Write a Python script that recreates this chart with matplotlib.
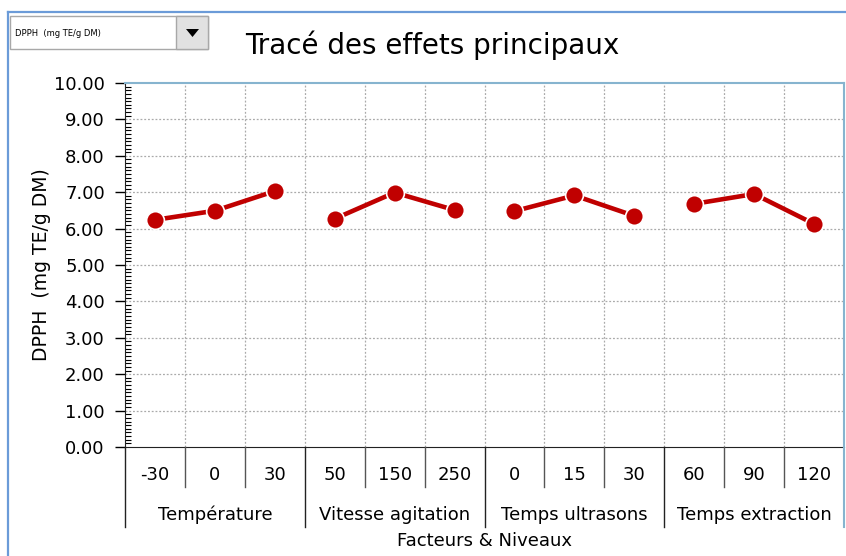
import numpy as np
import matplotlib
matplotlib.use('Agg')
import matplotlib.pyplot as plt
from matplotlib.lines import Line2D
from matplotlib.patches import Rectangle, Polygon
from matplotlib.transforms import blended_transform_factory
from matplotlib.ticker import MultipleLocator

# Effets principaux : moyenne de DPPH par niveau de chaque facteur
facteurs = ['Température', 'Vitesse agitation', 'Temps ultrasons', 'Temps extraction']
niveaux = [['-30', '0', '30'],
           ['50', '150', '250'],
           ['0', '15', '30'],
           ['60', '90', '120']]
dpph = [[6.24, 6.49, 7.03],
        [6.27, 6.99, 6.51],
        [6.48, 6.91, 6.35],
        [6.68, 6.95, 6.13]]

W, H = 846, 556
fig = plt.figure(figsize=(W / 100, H / 100), dpi=100)
plt.rcParams['font.family'] = ['DejaVu Sans']


def fy(py):
    """pixel row -> figure fraction"""
    return (H - py) / H


def fx(px):
    return px / W


ax_l, ax_r, ax_t, ax_b = 125, 844, 83, 447
ax = fig.add_axes([fx(ax_l), fy(ax_b), fx(ax_r) - fx(ax_l), fy(ax_t) - fy(ax_b)])

rouge = '#c00000'
n_niv = len(niveaux[0])
for g, vals in enumerate(dpph):
    xs = g * n_niv + np.arange(n_niv) + 0.5
    ax.plot(xs, vals, color=rouge, lw=3.3, solid_capstyle='butt', zorder=3)
    ax.plot(xs, vals, 'o', color=rouge, ms=12.8, mec='white', mew=1.2, zorder=4)

n_col = len(facteurs) * n_niv
ax.set_xlim(0, n_col)
ax.set_ylim(0, 10)
ax.set_xticks([])
ax.yaxis.set_major_locator(MultipleLocator(1))
ax.yaxis.set_minor_locator(MultipleLocator(0.1))
ax.yaxis.set_major_formatter(matplotlib.ticker.FormatStrFormatter('%.2f'))
ax.tick_params(axis='y', which='major', direction='out', length=7, width=1, labelsize=13, pad=7.5)
ax.tick_params(axis='y', which='minor', direction='in', length=4, width=0.8)

# grille pointillée
for k in range(1, n_col):
    ax.axvline(k, color='#aaaaaa', lw=0.9, ls=(0, (1.5, 1.5)), zorder=1)
for v in range(1, 10):
    ax.axhline(v, color='#aaaaaa', lw=0.9, ls=(0, (1.5, 1.5)), zorder=1)

ax.spines['top'].set_color('#86b4cf')
ax.spines['top'].set_linewidth(1.5)
ax.spines['right'].set_visible(False)
ax.spines['left'].set_color('#222222')
ax.spines['bottom'].set_color('#222222')

ax.set_ylabel('DPPH  (mg TE/g DM)', fontsize=13.5, labelpad=2)

# tableau des niveaux et facteurs sous l'axe
tr = blended_transform_factory(ax.transData, fig.transFigure)
for g, nom in enumerate(facteurs):
    for j, niv in enumerate(niveaux[g]):
        c = g * n_niv + j
        ax.text(c + 0.5, fy(475), niv, transform=tr, ha='center', va='center', fontsize=13)
        if j > 0:
            fig.add_artist(Line2D([c, c], [fy(447), fy(487)], transform=tr, color='#555555', lw=1))
    ax.text(g * n_niv + n_niv / 2, fy(515), nom, transform=tr, ha='center', va='center', fontsize=13)
    fig.add_artist(Line2D([g * n_niv, g * n_niv], [fy(447), fy(527)], transform=tr, color='#222222', lw=1))

fig.add_artist(Line2D([fx(ax_r), fx(ax_r)], [fy(ax_t), fy(527)], transform=fig.transFigure,
                      color='#86b4cf', lw=1.5))
fig.text(fx((ax_l + ax_r) / 2), fy(541), 'Facteurs & Niveaux', ha='center', va='center', fontsize=13)

# titre
fig.text(fx(432), fy(45), 'Tracé des effets principaux', ha='center', va='center', fontsize=20)

# cadre de la fenêtre
fig.add_artist(Line2D([fx(8), fx(846)], [fy(12), fy(12)], transform=fig.transFigure, color='#6b9bd8', lw=1.6))
fig.add_artist(Line2D([fx(8), fx(8)], [fy(12), fy(556)], transform=fig.transFigure, color='#6b9bd8', lw=1.6))

# liste déroulante
fig.add_artist(Rectangle((fx(10), fy(49)), fx(208) - fx(10), fy(16) - fy(49), transform=fig.transFigure,
                         facecolor='white', edgecolor='#a8a8a8', lw=1))
fig.add_artist(Rectangle((fx(176), fy(49)), fx(208) - fx(176), fy(16) - fy(49), transform=fig.transFigure,
                         facecolor='#e1e1e1', edgecolor='#a8a8a8', lw=1))
fig.add_artist(Polygon([[fx(186), fy(29)], [fx(199), fy(29)], [fx(192.5), fy(37)]], closed=True,
                       transform=fig.transFigure, facecolor='black', edgecolor='none'))
fig.text(fx(15), fy(33), 'DPPH  (mg TE/g DM)', ha='left', va='center', fontsize=6)

fig.savefig('out.png', dpi=100)
